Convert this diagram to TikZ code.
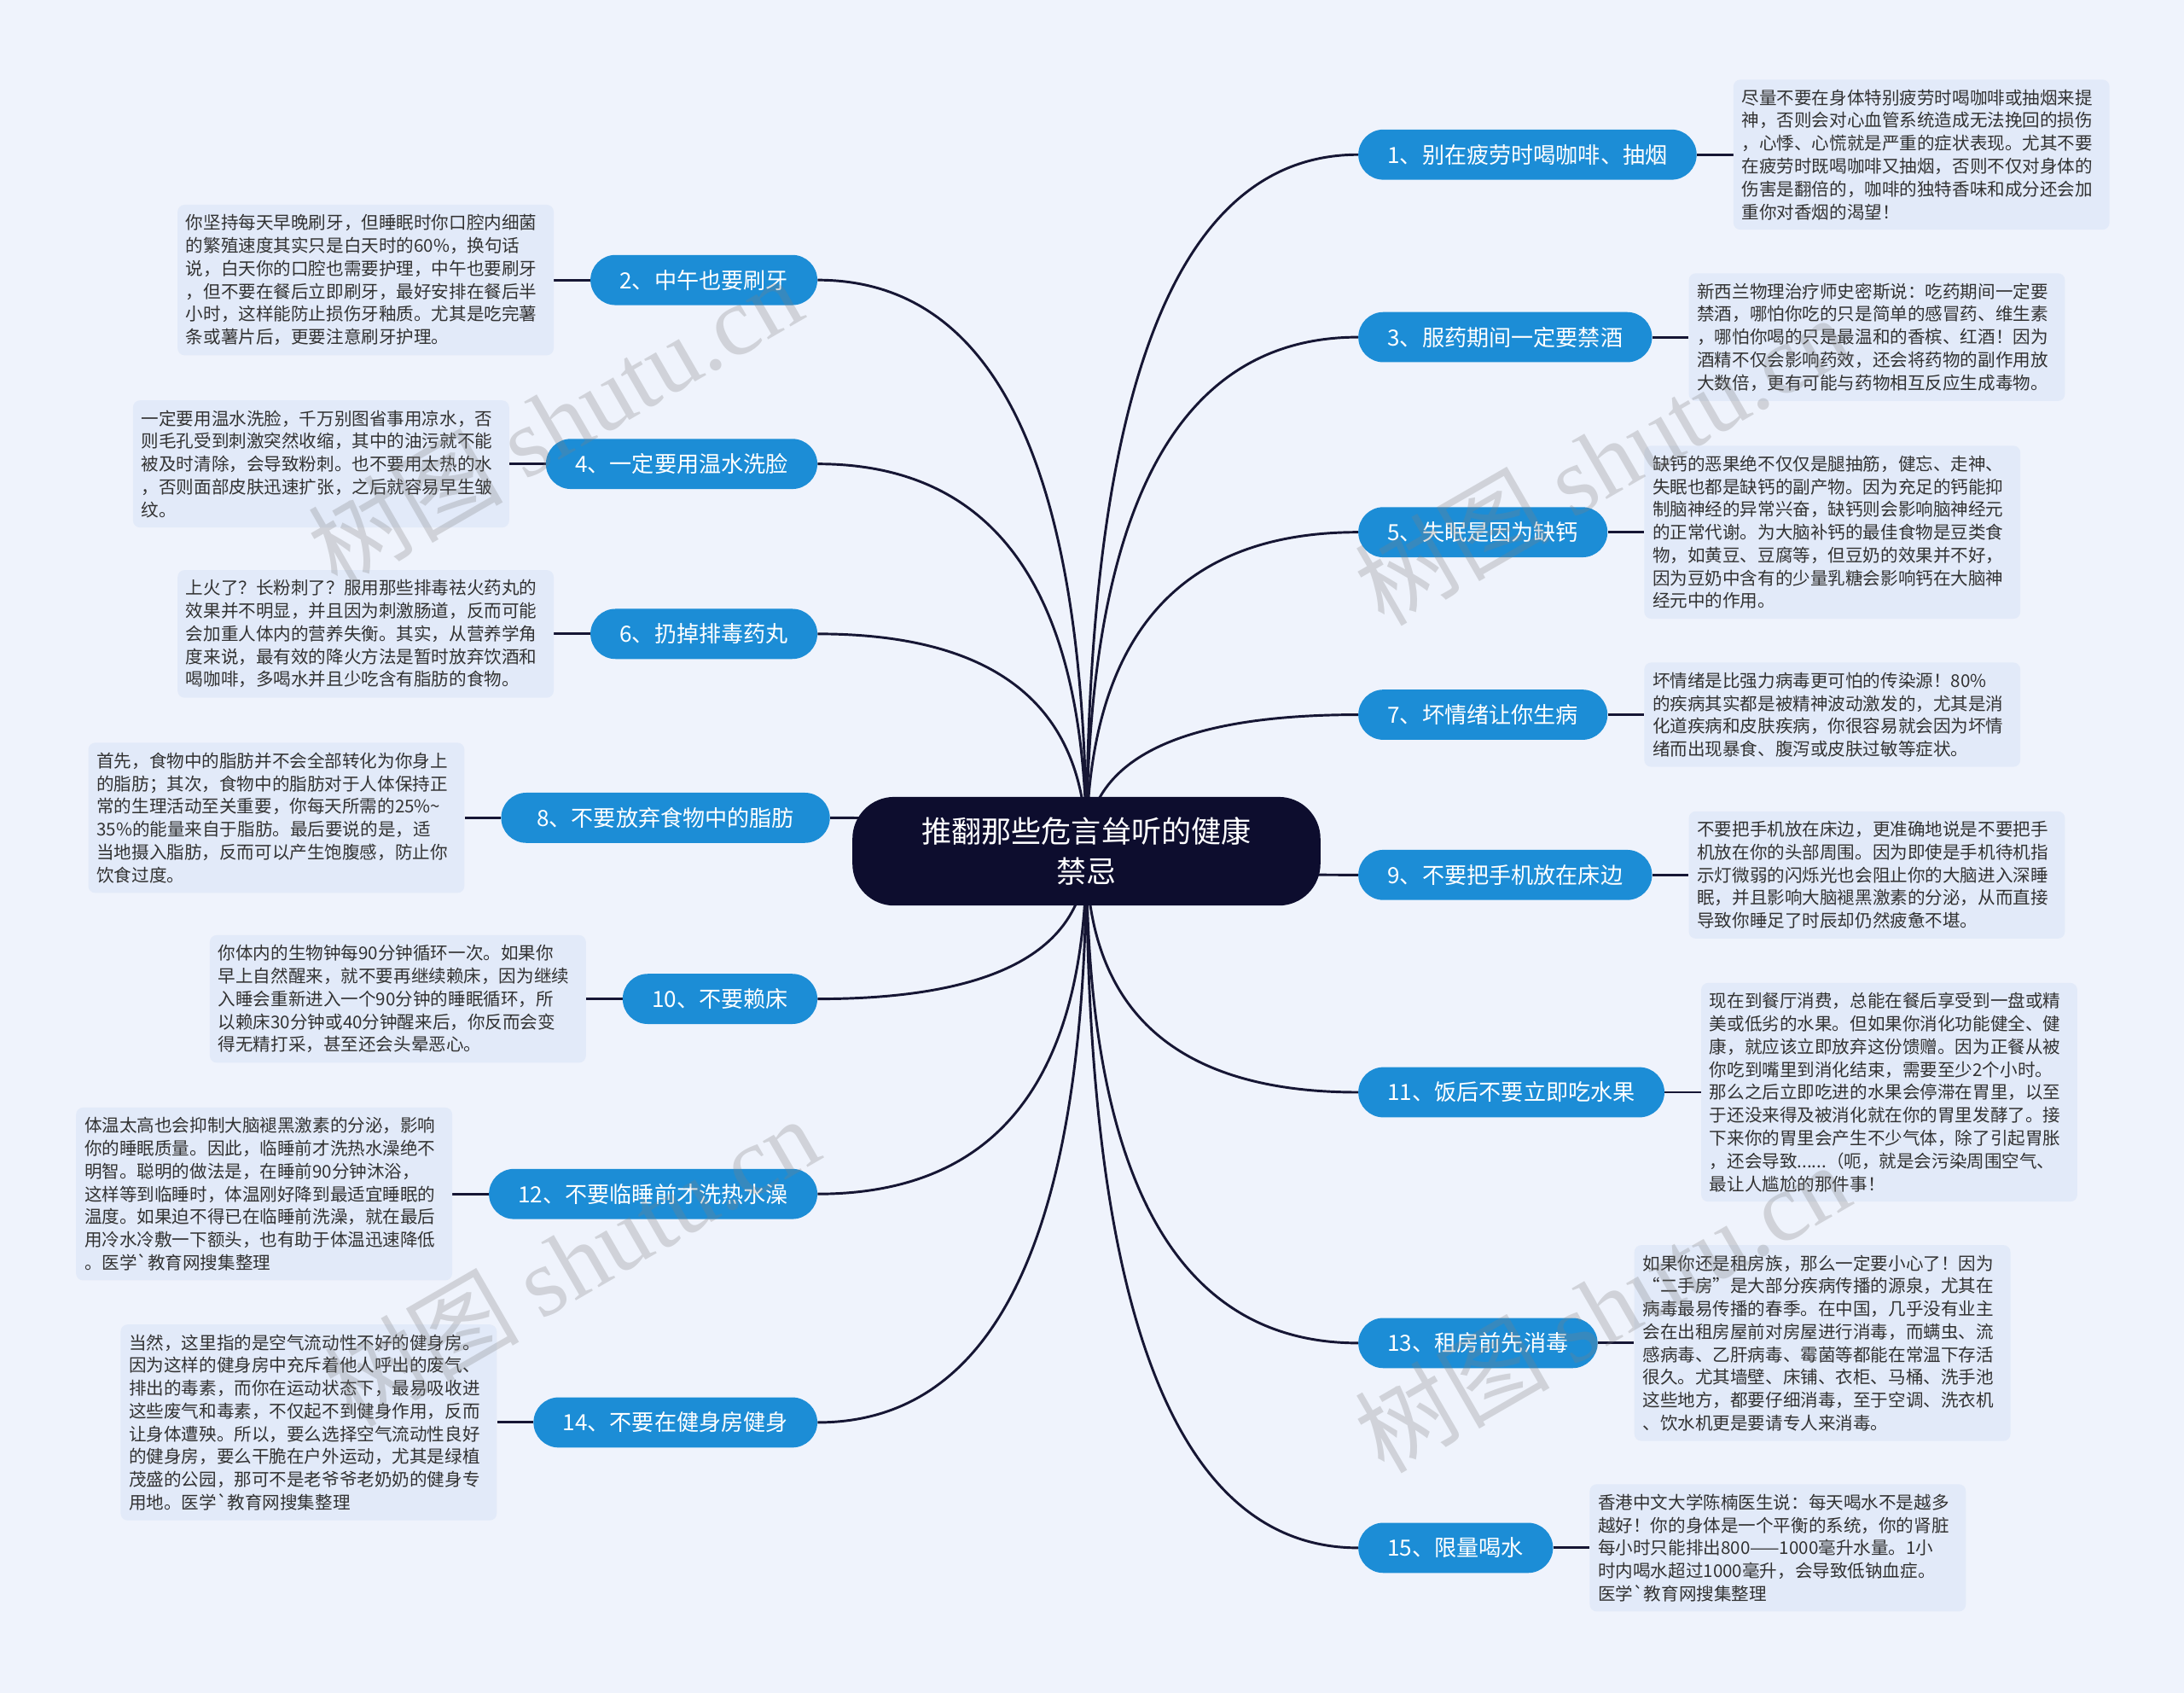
\documentclass[tikz,border=0pt]{standalone}
\usepackage{fontspec}
\newfontfamily\cjk{Noto Sans CJK SC}[Ligatures=TeXOff]
\newfontfamily\wmserif{Liberation Serif}
\usetikzlibrary{positioning,calc}
\definecolor{pagebg}{RGB}{239,243,252}
\definecolor{boxfill}{RGB}{226,234,249}
\definecolor{branchblue}{RGB}{28,141,214}
\definecolor{rootnavy}{RGB}{13,13,46}
\definecolor{linkcol}{RGB}{22,22,52}
\definecolor{bodytext}{RGB}{50,50,50}
\pgfdeclarelayer{bg}
\pgfdeclarelayer{edges}
\pgfsetlayers{bg,edges,main}

\begin{document}
\begin{tikzpicture}[x=1pt,y=-1pt,
  node distance=26pt,
  root/.style={fill=rootnavy,text=white,rounded corners=30pt,minimum width=336pt,minimum height=78pt,
    align=center,font=\cjk\fontsize{21.5}{29}\selectfont},
  branch/.style={fill=branchblue,text=white,rounded corners=18pt,minimum height=36pt,inner xsep=21pt,
    font=\cjk\fontsize{16}{19}\selectfont},
  note/.style={fill=boxfill,text=bodytext,rounded corners=5pt,text width=258pt,inner xsep=6pt,inner ysep=7pt,
    align=left,font=\cjk\fontsize{12.6}{16.4}\selectfont},
  link/.style={draw=linkcol,line width=1.8pt},
  stamp/.style={text=gray,opacity=.28,rotate=30,font=\cjk\fontsize{70}{76}\selectfont}]

\begin{pgfonlayer}{bg}
\fill[pagebg] (0,0) rectangle (1568,1215);
\end{pgfonlayer}
\useasboundingbox (0,0) rectangle (1568,1215);

% centre
\node[root] (root) at (780,611) {推翻那些危言耸听的健康\\禁忌};

% right branches
\node[branch,anchor=west] (b1) at (975,111) {1、别在疲劳时喝咖啡、抽烟};
\node[note,right=of b1] (n1) {尽量不要在身体特别疲劳时喝咖啡或抽烟来提\\
神，否则会对心血管系统造成无法挽回的损伤\\
，心悸、心慌就是严重的症状表现。尤其不要\\
在疲劳时既喝咖啡又抽烟，否则不仅对身体的\\
伤害是翻倍的，咖啡的独特香味和成分还会加\\
重你对香烟的渴望！};

\node[branch,anchor=west] (b3) at (975,242) {3、服药期间一定要禁酒};
\node[note,right=of b3] (n3) {新西兰物理治疗师史密斯说：吃药期间一定要\\
禁酒，哪怕你吃的只是简单的感冒药、维生素\\
，哪怕你喝的只是最温和的香槟、红酒！因为\\
酒精不仅会影响药效，还会将药物的副作用放\\
大数倍，更有可能与药物相互反应生成毒物。};

\node[branch,anchor=west] (b5) at (975,382) {5、失眠是因为缺钙};
\node[note,right=of b5] (n5) {缺钙的恶果绝不仅仅是腿抽筋，健忘、走神、\\
失眠也都是缺钙的副产物。因为充足的钙能抑\\
制脑神经的异常兴奋，缺钙则会影响脑神经元\\
的正常代谢。为大脑补钙的最佳食物是豆类食\\
物，如黄豆、豆腐等，但豆奶的效果并不好，\\
因为豆奶中含有的少量乳糖会影响钙在大脑神\\
经元中的作用。};

\node[branch,anchor=west] (b7) at (975,513) {7、坏情绪让你生病};
\node[note,right=of b7] (n7) {坏情绪是比强力病毒更可怕的传染源！80\%\\
的疾病其实都是被精神波动激发的，尤其是消\\
化道疾病和皮肤疾病，你很容易就会因为坏情\\
绪而出现暴食、腹泻或皮肤过敏等症状。};

\node[branch,anchor=west] (b9) at (975,628) {9、不要把手机放在床边};
\node[note,right=of b9] (n9) {不要把手机放在床边，更准确地说是不要把手\\
机放在你的头部周围。因为即使是手机待机指\\
示灯微弱的闪烁光也会阻止你的大脑进入深睡\\
眠，并且影响大脑褪黑激素的分泌，从而直接\\
导致你睡足了时辰却仍然疲惫不堪。};

\node[branch,anchor=west] (b11) at (975,784) {11、饭后不要立即吃水果};
\node[note,right=of b11] (n11) {现在到餐厅消费，总能在餐后享受到一盘或精\\
美或低劣的水果。但如果你消化功能健全、健\\
康，就应该立即放弃这份馈赠。因为正餐从被\\
你吃到嘴里到消化结束，需要至少2个小时。\\
那么之后立即吃进的水果会停滞在胃里，以至\\
于还没来得及被消化就在你的胃里发酵了。接\\
下来你的胃里会产生不少气体，除了引起胃胀\\
，还会导致......（呃，就是会污染周围空气、\\
最让人尴尬的那件事！};

\node[branch,anchor=west] (b13) at (975,964) {13、租房前先消毒};
\node[note,right=of b13] (n13) {如果你还是租房族，那么一定要小心了！因为\\
“二手房”是大部分疾病传播的源泉，尤其在\\
病毒最易传播的春季。在中国，几乎没有业主\\
会在出租房屋前对房屋进行消毒，而螨虫、流\\
感病毒、乙肝病毒、霉菌等都能在常温下存活\\
很久。尤其墙壁、床铺、衣柜、马桶、洗手池\\
这些地方，都要仔细消毒，至于空调、洗衣机\\
、饮水机更是要请专人来消毒。};

\node[branch,anchor=west] (b15) at (975,1111) {15、限量喝水};
\node[note,right=of b15] (n15) {香港中文大学陈楠医生说：每天喝水不是越多\\
越好！你的身体是一个平衡的系统，你的肾脏\\
每小时只能排出800——1000毫升水量。1小\\
时内喝水超过1000毫升，会导致低钠血症。\\
医学`教育网搜集整理};

% left branches
\node[branch,anchor=east] (b2) at (587,201) {2、中午也要刷牙};
\node[note,left=of b2] (n2) {你坚持每天早晚刷牙，但睡眠时你口腔内细菌\\
的繁殖速度其实只是白天时的60\%，换句话\\
说，白天你的口腔也需要护理，中午也要刷牙\\
，但不要在餐后立即刷牙，最好安排在餐后半\\
小时，这样能防止损伤牙釉质。尤其是吃完薯\\
条或薯片后，更要注意刷牙护理。};

\node[branch,anchor=east] (b4) at (587,333) {4、一定要用温水洗脸};
\node[note,left=of b4] (n4) {一定要用温水洗脸，千万别图省事用凉水，否\\
则毛孔受到刺激突然收缩，其中的油污就不能\\
被及时清除，会导致粉刺。也不要用太热的水\\
，否则面部皮肤迅速扩张，之后就容易早生皱\\
纹。};

\node[branch,anchor=east] (b6) at (587,455) {6、扔掉排毒药丸};
\node[note,left=of b6] (n6) {上火了？长粉刺了？服用那些排毒祛火药丸的\\
效果并不明显，并且因为刺激肠道，反而可能\\
会加重人体内的营养失衡。其实，从营养学角\\
度来说，最有效的降火方法是暂时放弃饮酒和\\
喝咖啡，多喝水并且少吃含有脂肪的食物。};

\node[branch,anchor=east,minimum width=236pt] (b8) at (596,587) {8、不要放弃食物中的脂肪};
\node[note,left=of b8] (n8) {首先，食物中的脂肪并不会全部转化为你身上\\
的脂肪；其次，食物中的脂肪对于人体保持正\\
常的生理活动至关重要，你每天所需的25\%\string~\\
35\%的能量来自于脂肪。最后要说的是，适\\
当地摄入脂肪，反而可以产生饱腹感，防止你\\
饮食过度。};

\node[branch,anchor=east] (b10) at (587,717) {10、不要赖床};
\node[note,left=of b10] (n10) {你体内的生物钟每90分钟循环一次。如果你\\
早上自然醒来，就不要再继续赖床，因为继续\\
入睡会重新进入一个90分钟的睡眠循环，所\\
以赖床30分钟或40分钟醒来后，你反而会变\\
得无精打采，甚至还会头晕恶心。};

\node[branch,anchor=east] (b12) at (587,857) {12、不要临睡前才洗热水澡};
\node[note,left=of b12] (n12) {体温太高也会抑制大脑褪黑激素的分泌，影响\\
你的睡眠质量。因此，临睡前才洗热水澡绝不\\
明智。聪明的做法是，在睡前90分钟沐浴，\\
这样等到临睡时，体温刚好降到最适宜睡眠的\\
温度。如果迫不得已在临睡前洗澡，就在最后\\
用冷水冷敷一下额头，也有助于体温迅速降低\\
。医学`教育网搜集整理};

\node[branch,anchor=east] (b14) at (587,1021) {14、不要在健身房健身};
\node[note,left=of b14] (n14) {当然，这里指的是空气流动性不好的健身房。\\
因为这样的健身房中充斥着他人呼出的废气、\\
排出的毒素，而你在运动状态下，最易吸收进\\
这些废气和毒素，不仅起不到健身作用，反而\\
让身体遭殃。所以，要么选择空气流动性良好\\
的健身房，要么干脆在户外运动，尤其是绿植\\
茂盛的公园，那可不是老爷爷老奶奶的健身专\\
用地。医学`教育网搜集整理};

% connectors
\begin{pgfonlayer}{edges}
\foreach \b in {b1,b3,b5,b7,b9,b11,b13,b15}
  \draw[link] (root.center) .. controls ($(root.center)!.667!(root.center |- \b.west)$)
    and ($(\b.west)!.667!(root.center |- \b.west)$) .. (\b.west);
\foreach \b in {b2,b4,b6,b8,b10,b12,b14}
  \draw[link] (root.center) .. controls ($(root.center)!.667!(root.center |- \b.east)$)
    and ($(\b.east)!.667!(root.center |- \b.east)$) .. (\b.east);
\foreach \i in {1,...,15}
  \draw[link] (b\i) -- (n\i);
\end{pgfonlayer}

% watermarks
\node[stamp] (wm1) at (398,302) {树图 {\wmserif shutu.cn}};
\node[stamp] (wm2) at (1150,330) {树图 {\wmserif shutu.cn}};
\node[stamp] (wm3) at (410,905) {树图 {\wmserif shutu.cn}};
\node[stamp] (wm4) at (1150,938) {树图 {\wmserif shutu.cn}};
\end{tikzpicture}
\end{document}
